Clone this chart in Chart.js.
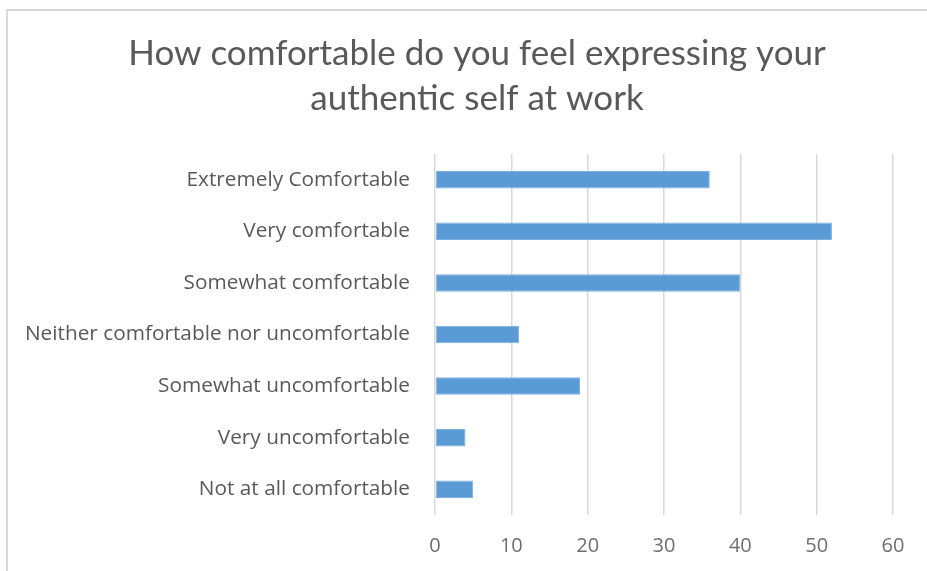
<!DOCTYPE html>
<html lang="en">
<head>
    <meta charset="UTF-8">
    <title>Authentic self at work</title>
    <script src="https://cdn.jsdelivr.net/npm/chart.js"></script>
    <style>
        html, body { margin: 0; padding: 0; background: #fff; }
        .wrap { position: relative; width: 927px; height: 571px; overflow: hidden; }
        .frame { position: absolute; left: 6px; top: 9px; width: 960px; height: 600px;
                 border-left: 2px solid #d9d9d9; border-top: 2px solid #d9d9d9; }
        canvas { position: absolute; left: 0; top: 0; }
    </style>
</head>
<body>
    <div class="wrap">
        <div class="frame"></div>
        <canvas id="comfortChart" width="927" height="571"></canvas>
    </div>

    <script>
        // chart data
        const categories = [
            'Extremely Comfortable',
            'Very comfortable',
            'Somewhat comfortable',
            'Neither comfortable nor uncomfortable',
            'Somewhat uncomfortable',
            'Very uncomfortable',
            'Not at all comfortable'
        ];
        const responses = [36, 52, 40, 11, 19, 4, 5];
        const xTicks = [0, 10, 20, 30, 40, 50, 60];
        const titleLines = ['How comfortable do you feel expressing your', 'authentic self at work'];

        const textGrey = '#595959';

        // title is drawn by hand: it sits centred on the whole frame, not on the plot
        const frameTitle = {
            id: 'frameTitle',
            afterDraw(chart) {
                const c = chart.ctx;
                c.save();
                c.fillStyle = textGrey;
                c.font = '35px Lato';
                c.textAlign = 'center';
                c.textBaseline = 'alphabetic';
                titleLines.forEach((line, i) => c.fillText(line, 477, 65 + i * 45));
                c.restore();
            }
        };

        const ctx = document.getElementById('comfortChart').getContext('2d');
        const comfortChart = new Chart(ctx, {
            type: 'bar',
            data: {
                labels: categories,
                datasets: [{
                    label: 'Responses',
                    data: responses,
                    backgroundColor: '#5b9bd5',
                    borderColor: '#7eb0df',
                    borderWidth: 1,
                    borderSkipped: false,
                    barPercentage: 0.34,
                    categoryPercentage: 1
                }]
            },
            plugins: [frameTitle],
            options: {
                indexAxis: 'y',
                responsive: false,
                animation: false,
                layout: {
                    padding: { top: 154, left: 6, right: 34, bottom: 0 }
                },
                plugins: {
                    legend: { display: false },
                    tooltip: { enabled: false },
                    title: { display: false }
                },
                scales: {
                    x: {
                        min: 0,
                        max: 60,
                        afterBuildTicks: (scale) => {
                            scale.ticks = xTicks.map(v => ({ value: v }));
                        },
                        afterFit: (scale) => { scale.height = 56; },
                        grid: { color: '#d9d9d9', lineWidth: 1.5, drawTicks: false },
                        border: { display: false },
                        ticks: {
                            color: '#6f6f6f',
                            padding: 19,
                            font: { family: 'Open Sans', size: 20 }
                        }
                    },
                    y: {
                        afterFit: (scale) => { scale.width = 429; },
                        grid: { display: false, drawTicks: false },
                        border: { display: false },
                        ticks: {
                            color: textGrey,
                            padding: 25,
                            autoSkip: false,
                            font: { family: 'Open Sans', size: 20.8 }
                        }
                    }
                }
            }
        });
    </script>
</body>
</html>
